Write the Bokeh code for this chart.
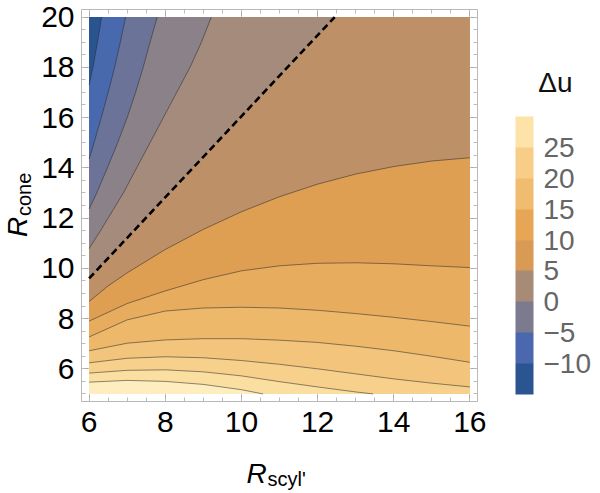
from bokeh.plotting import figure
from bokeh.layouts import row, column
from bokeh.models import (LinearAxis, SingleIntervalTicker, ColorBar, LinearColorMapper,
                          FixedTicker, Label, CustomJSTickFormatter, Range1d)
from bokeh.embed import file_html
from bokeh.resources import INLINE

# ---------------- data ----------------
x_min, x_max = 6, 16          # R_scyl' domain
y_min, y_max = 5, 20          # R_cone domain

# lower family of contour lines, y as a function of x
K_x = [6, 7, 8, 9, 10, 10.57]
K_y = [5.47, 5.54, 5.50, 5.38, 5.17, 5.0]
J_x = [6, 7, 8, 9, 10, 11, 12, 13, 13.46]
J_y = [5.83, 5.94, 5.96, 5.88, 5.72, 5.49, 5.28, 5.08, 5.0]
grid_x = [6, 7, 8, 9, 10, 11, 12, 13, 14, 15, 16]
I_y = [6.24, 6.42, 6.48, 6.44, 6.33, 6.18, 6.00, 5.80, 5.60, 5.43, 5.28]
H_y = [6.72, 7.02, 7.15, 7.20, 7.20, 7.14, 7.05, 6.90, 6.72, 6.50, 6.26]
G_y = [7.27, 7.95, 8.30, 8.42, 8.45, 8.42, 8.33, 8.20, 8.05, 7.88, 7.70]
F_y = [7.90, 8.60, 9.10, 9.55, 9.90, 10.10, 10.20, 10.22, 10.18, 10.10, 10.03]
E_x = [6, 6.5, 7, 8, 9, 10, 11, 12, 13, 14, 15, 16]
E_y = [8.68, 9.30, 9.82, 10.75, 11.55, 12.25, 12.85, 13.35, 13.75, 14.05, 14.27, 14.40]

# dashed boundary line
dash_x = [6.0, 12.45]
dash_y = [9.6, 20.0]

# upper-left family of contour lines, x as a function of y
D_y = [10.79, 11.5, 12, 13, 14, 15, 16, 17, 18, 19, 20]
D_x = [6.00, 6.30, 6.50, 6.90, 7.25, 7.60, 7.95, 8.30, 8.65, 8.95, 9.21]
C_y = [12.36, 13, 14, 15, 16, 17, 18, 19, 20]
C_x = [6.00, 6.20, 6.48, 6.75, 7.00, 7.22, 7.42, 7.60, 7.79]
B_y = [14.35, 15, 16, 17, 18, 19, 20]
B_x = [6.00, 6.13, 6.32, 6.50, 6.67, 6.82, 6.96]
A_y = [17.3, 18, 19, 20]
A_x = [6.00, 6.10, 6.22, 6.33]

# colour of every band, from the lowest-lying band (largest Δu) upwards
region_colors = ["#FEEEBF", "#FBDFA0", "#F7D18C", "#F3C47B", "#EEB86B", "#E8AC5E",
                 "#DF9F53", "#BD9068", "#A58B7B", "#8A8189", "#6B7399", "#4869AD", "#2A5490"]

# colour legend
legend_low, legend_high = -15, 30
legend_colors = ["#2A5590", "#4B68AE", "#7B7A8F", "#A78B77", "#D99A55",
                 "#E6A656", "#F0BC70", "#F8CD87", "#FEE3A8"]
legend_ticks = [-10, -5, 0, 5, 10, 15, 20, 25]
legend_title = "Δu"
x_title, x_sub = "R", "scyl'"
y_title, y_sub = "R", "cone"

FONT = "Liberation Sans"

# ---------------- layout sizes (pixels) ----------------
LEFT_W, MAIN_W, RIGHT_W = 36, 451, 111
TOP_H, BOTTOM_H = 445, 46

# ---------------- main figure ----------------
p = figure(width=MAIN_W, height=TOP_H,
           x_range=Range1d(5.8, 16.2), y_range=Range1d(4.7, 20.3),
           output_backend="svg", toolbar_location=None,
           x_axis_location=None, y_axis_location=None,
           min_border_left=45, min_border_right=10,
           min_border_top=9, min_border_bottom=44, frame_align=False)
p.outline_line_color = None


def make_axis(show_labels, standoff=7):
    ax = LinearAxis(ticker=SingleIntervalTicker(interval=2, num_minor_ticks=4))
    ax.axis_line_color = "#b8b8b8"
    ax.major_tick_line_color = "#a8a8a8"
    ax.minor_tick_line_color = "#bbbbbb"
    ax.major_tick_in = 7
    ax.major_tick_out = 0
    ax.minor_tick_in = 4
    ax.minor_tick_out = 0
    if show_labels:
        ax.major_label_text_font = FONT
        ax.major_label_text_font_size = "30px"
        ax.major_label_text_color = "#000000"
        ax.major_label_standoff = standoff
    else:
        ax.formatter = CustomJSTickFormatter(code="return '';")
        ax.major_label_text_font_size = "1px"
        ax.major_label_standoff = 0
    return ax


p.add_layout(make_axis(True, 10), "below")
p.add_layout(make_axis(True, 7), "left")
p.add_layout(make_axis(False), "above")
p.add_layout(make_axis(False), "right")


def region_above(cx, cy):
    xs, ys = list(cx), list(cy)
    if xs[-1] < x_max:            # curve ends on the lower edge
        xs.append(x_max)
        ys.append(y_min)
    xs += [x_max, x_min]
    ys += [y_max, y_max]
    return xs, ys


def region_left(cx, cy):
    return list(cx) + [x_min], list(cy) + [y_max]


lower_curves = [(K_x, K_y), (J_x, J_y), (grid_x, I_y), (grid_x, H_y),
                (grid_x, G_y), (grid_x, F_y), (E_x, E_y)]
upper_curves = [(dash_x, dash_y), (D_x, D_y), (C_x, C_y), (B_x, B_y), (A_x, A_y)]

polys_x = [[x_min, x_max, x_max, x_min]]
polys_y = [[y_min, y_min, y_max, y_max]]
for cx, cy in lower_curves:
    px_, py_ = region_above(cx, cy)
    polys_x.append(px_)
    polys_y.append(py_)
for cx, cy in upper_curves:
    px_, py_ = region_left(cx, cy)
    polys_x.append(px_)
    polys_y.append(py_)

p.patches(polys_x, polys_y, fill_color=region_colors, line_color=None)

line_xs = [c[0] for c in lower_curves] + [c[0] for c in upper_curves[1:]]
line_ys = [c[1] for c in lower_curves] + [c[1] for c in upper_curves[1:]]
p.multi_line(line_xs, line_ys, line_color="#2a2a2a", line_alpha=0.6, line_width=0.9)

p.line(dash_x, dash_y, line_color="black", line_width=2.6, line_dash="7 4")


def text_fig(w, h):
    f = figure(width=w, height=h, x_range=Range1d(0, w), y_range=Range1d(0, h),
               output_backend="svg", toolbar_location=None,
               x_axis_location=None, y_axis_location=None,
               min_border_left=0, min_border_right=0, min_border_top=0, min_border_bottom=0,
               frame_align=False)
    f.outline_line_color = None
    f.grid.visible = False
    return f


# ---------------- y-axis title (left strip) ----------------
left = text_fig(LEFT_W, TOP_H)
left.add_layout(Label(x=17, y=208.5, angle=1.5707963, text=y_title, text_font=FONT,
                      text_font_style="italic", text_font_size="28px",
                      text_baseline="alphabetic", text_align="left", text_color="black"))
left.add_layout(Label(x=23, y=229.5, angle=1.5707963, text=y_sub, text_font=FONT,
                      text_font_size="20px", text_baseline="alphabetic",
                      text_align="left", text_color="black"))

# ---------------- colour bar (right strip) ----------------
right = text_fig(RIGHT_W, TOP_H)
mapper = LinearColorMapper(palette=legend_colors, low=legend_low, high=legend_high)
cb = ColorBar(color_mapper=mapper, location=(28, 51), width=18, height=278,
              padding=0, margin=0,
              ticker=FixedTicker(ticks=legend_ticks),
              formatter=CustomJSTickFormatter(
                  code="return tick < 0 ? '\u2212' + Math.abs(tick) : String(tick);"),
              major_label_text_font=FONT, major_label_text_font_size="28px",
              major_label_text_color="#666666", major_tick_line_color=None,
              minor_tick_line_color=None, bar_line_color=None,
              border_line_color=None, background_fill_color=None,
              background_fill_alpha=0, label_standoff=10)
right.add_layout(cb, "center")
right.add_layout(Label(x=68, y=363, text=legend_title, text_font=FONT,
                       text_font_size="28px", text_align="center",
                       text_baseline="alphabetic", text_color="#111111"))

# ---------------- x-axis title (bottom strip) ----------------
bottom = text_fig(LEFT_W + MAIN_W + RIGHT_W, BOTTOM_H)
bottom.add_layout(Label(x=246, y=18, text=x_title, text_font=FONT,
                        text_font_style="italic", text_font_size="28px",
                        text_baseline="alphabetic", text_align="left", text_color="black"))
bottom.add_layout(Label(x=267, y=12.5, text=x_sub, text_font=FONT,
                        text_font_size="20px", text_baseline="alphabetic",
                        text_align="left", text_color="black"))

page = column(row(left, p, right), bottom)

open("out.html", "w", encoding="utf-8").write(file_html(page, INLINE))
